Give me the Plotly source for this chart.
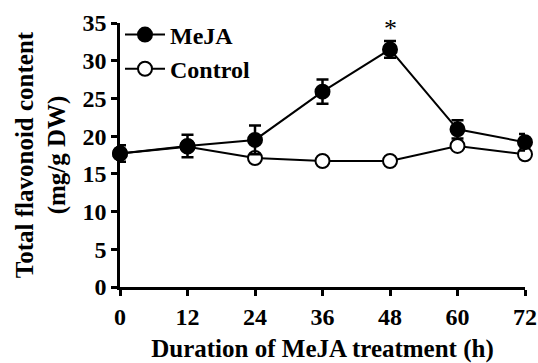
import plotly.graph_objects as go

hours = [0, 12, 24, 36, 48, 60, 72]
meja = [17.7, 18.7, 19.5, 25.9, 31.5, 20.9, 19.2]
meja_err = [1.1, 1.5, 1.9, 1.6, 1.1, 1.2, 1.1]
control = [17.7, 18.6, 17.1, 16.7, 16.7, 18.7, 17.6]
control_err = [0.3, 0.3, 0.3, 0.3, 0.3, 0.3, 0.3]
y_ticks = [0, 5, 10, 15, 20, 25, 30, 35]
star_x, star_y = 48, 34.3

FONT = "Liberation Serif, Times New Roman, serif"

fig = go.Figure()
fig.add_trace(go.Scatter(
    x=hours, y=control, name="<b>Control</b>", mode="lines+markers",
    line=dict(color="black", width=2),
    marker=dict(symbol="circle", size=14, color="white", line=dict(color="black", width=2)),
    error_y=dict(type="data", array=control_err, visible=True, color="black", thickness=2, width=6),
    cliponaxis=False,
))
fig.add_trace(go.Scatter(
    x=hours, y=meja, name="<b>MeJA</b>", mode="lines+markers",
    line=dict(color="black", width=2),
    marker=dict(symbol="circle", size=14, color="black", line=dict(color="black", width=2)),
    error_y=dict(type="data", array=meja_err, visible=True, color="black", thickness=2.5, width=6),
    cliponaxis=False,
))

fig.add_annotation(x=star_x, y=star_y, text="*", showarrow=False,
                   font=dict(family=FONT, size=26, color="black"))

fig.update_layout(
    width=538, height=363,
    margin=dict(l=120, r=13, t=23, b=76, autoexpand=False),
    paper_bgcolor="white", plot_bgcolor="white",
    font=dict(family=FONT, size=24, color="black"),
    showlegend=True,
    legend=dict(x=0.0, y=1.04, xanchor="left", yanchor="top",
                traceorder="reversed",
                font=dict(family=FONT, size=24, color="black"),
                bgcolor="rgba(0,0,0,0)", itemwidth=40, tracegroupgap=0),
    xaxis=dict(
        range=[0, 72], tickvals=hours, ticktext=[f"<b>{h}</b>" for h in hours],
        showgrid=False, zeroline=False, automargin=False,
        showline=True, linecolor="black", linewidth=2.5,
        ticks="outside", ticklen=6, tickwidth=2.5, tickcolor="black",
        tickfont=dict(family=FONT, size=24),
        title=dict(text="<b>Duration of MeJA treatment (h)</b>", standoff=16,
                   font=dict(family=FONT, size=25)),
    ),
    yaxis=dict(
        range=[0, 35], tickvals=y_ticks, ticktext=[f"<b>{v}</b>" for v in y_ticks],
        showgrid=False, zeroline=False, automargin=False,
        showline=True, linecolor="black", linewidth=2.5,
        ticks="outside", ticklen=6, tickwidth=2.5, tickcolor="black",
        tickfont=dict(family=FONT, size=24),
        title=dict(text="<b>Total flavonoid content<br>(mg/g DW)</b>", standoff=10,
                   font=dict(family=FONT, size=25)),
    ),
)

fig.write_html("out.html")
